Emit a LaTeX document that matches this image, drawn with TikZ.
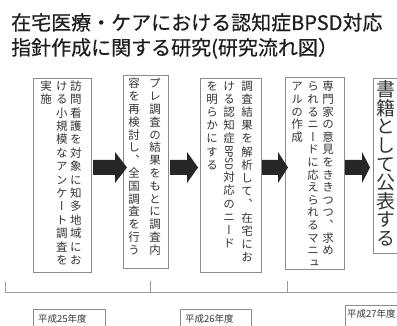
\documentclass[tikz,border=0pt]{standalone}
\usepackage{fontspec}
\usepackage{graphicx}
\setmainfont{Noto Sans CJK JP}
\newfontfamily\vjp[RawFeature=+vert]{Noto Sans CJK JP}
\newfontfamily\titlefont[FakeBold=0.5]{Noto Sans CJK JP}
\newdimen\vpitch \vpitch=13pt
\newdimen\vcw \vcw=14pt
\def\vcolend{}
\def\vcol#1{\vbox{\offinterlineskip\vcolloop#1\vcolend}}
\def\vcolloop#1{\ifx\vcolend#1\else\vcolcell{#1}\expandafter\vcolloop\fi}
\def\vcolcell#1{\setbox0\hbox{#1}\dimen0=\ht0 \advance\dimen0 by\dp0
  \ifdim\dimen0>1.2\vpitch
    \hbox to\vcw{\hss\box0\hss}%
  \else
    \vbox to\vpitch{\vss\hbox to\vcw{\hss\vrule height .88em depth .12em width 0pt\box0\hss}\vss}%
  \fi}
\newcommand\vcolp[2]{\vpitch=#1\relax\vcol{#2}}
\definecolor{txt}{HTML}{333333}
\definecolor{boxline}{HTML}{8C8C8C}
\definecolor{arrc}{HTML}{262626}
\tikzset{
  x=1pt, y=-1pt,
  stepbox/.style={draw=boxline, line width=0.6pt},
  colt/.style={anchor=north, inner sep=0pt, text=txt, font=\vjp\fontsize{11.5}{13}\selectfont},
  bigcol/.style={anchor=north, inner sep=0pt, text=txt, font=\vjp\fontsize{19}{19}\selectfont},
  titlet/.style={anchor=base west, inner sep=0pt, text=black!88, font=\titlefont\fontsize{20}{24}\selectfont},
  yeart/.style={anchor=west, inner sep=0pt, text=txt, font=\fontsize{9.5}{12}\selectfont},
  blockarr/.style={fill=arrc},
  tline/.style={draw=gray!80, line width=0.7pt}
}
\newcommand\blockarrow[4]{% x1, xh, x2, y
  \fill[blockarr] (#1,#4-7.5) -- (#2,#4-7.5) -- (#2,#4-15.5) -- (#3,#4) -- (#2,#4+15.5) -- (#2,#4+7.5) -- (#1,#4+7.5) -- cycle;}
\begin{document}
\begin{tikzpicture}
\useasboundingbox (0,0) rectangle (397,326);
% title
\node[titlet] (t1) at (11,30) {在宅医療・ケアにおける認知症BPSD対応};
\node[titlet] (t2) at (11,55) {指針作成に関する研究(研究流れ図）};
% boxes
\draw[stepbox] (33,78) rectangle (91,272);
\draw[stepbox] (123,75) rectangle (168,268);
\draw[stepbox] (200,78) rectangle (261,272);
\draw[stepbox] (285,77) rectangle (344,269);
\draw[stepbox] (373,78) rectangle (402,253);
% box 1
\node[colt] (c11) at (76,79) {\vcolp{13.4pt}{訪問看護を対象に知多地域にお}};
\node[colt] (c12) at (62,79) {\vcolp{13.4pt}{ける小規模なアンケート調査を}};
\node[colt] (c13) at (46,79) {\vcolp{13.4pt}{実施}};
% box 2
\node[colt] (c21) at (155,77) {\vcolp{12.8pt}{プレ調査の結果をもとに調査内}};
\node[colt] (c22) at (134,77) {\vcolp{12.8pt}{容を再検討し、全国調査を行う}};
% box 3
\node[colt] (c31) at (247,79) {\vcolp{13.2pt}{調査結果を解析して、在宅にお}};
\node[colt] (c32) at (229,79) {\vcolp{13.2pt}{ける認知症{\rotatebox{-90}{\fontsize{10}{10}\selectfont BPSD}}対応のニード}};
\node[colt] (c33) at (212,79) {\vcolp{13.2pt}{を明らかにする}};
% box 4
\node[colt] (c41) at (328,80) {\vcolp{12.6pt}{専門家の意見をききつつ、求め}};
\node[colt] (c42) at (313,80) {\vcolp{12.6pt}{られるニードに応えられるマニュ}};
\node[colt] (c43) at (297,80) {\vcolp{12.6pt}{アルの作成}};
% box 5
\node[bigcol] (c51) at (386,80) {\vcolp{18.6pt}{書籍として公表する}};
% arrows
\blockarrow{93}{115}{127}{167.5}
\blockarrow{170}{187}{198}{167.5}
\blockarrow{262}{278}{288}{167.5}
\blockarrow{345}{362}{370}{167.5}
% timeline
\draw[tline] (5,282) -- (5,292) -- (400,292);
\draw[tline] (150,281) -- (150,292);
\draw[tline] (287,281) -- (287,292);
% years
\draw[stepbox] (33,309) rectangle (105,330);
\draw[stepbox] (180,309) rectangle (251,330);
\draw[stepbox] (345,305) rectangle (402,330);
\node[yeart] (y1) at (38,319) {平成25年度};
\node[yeart] (y2) at (185,319) {平成26年度};
\node[yeart] (y3) at (347,314) {平成27年度};
\end{tikzpicture}
\end{document}
